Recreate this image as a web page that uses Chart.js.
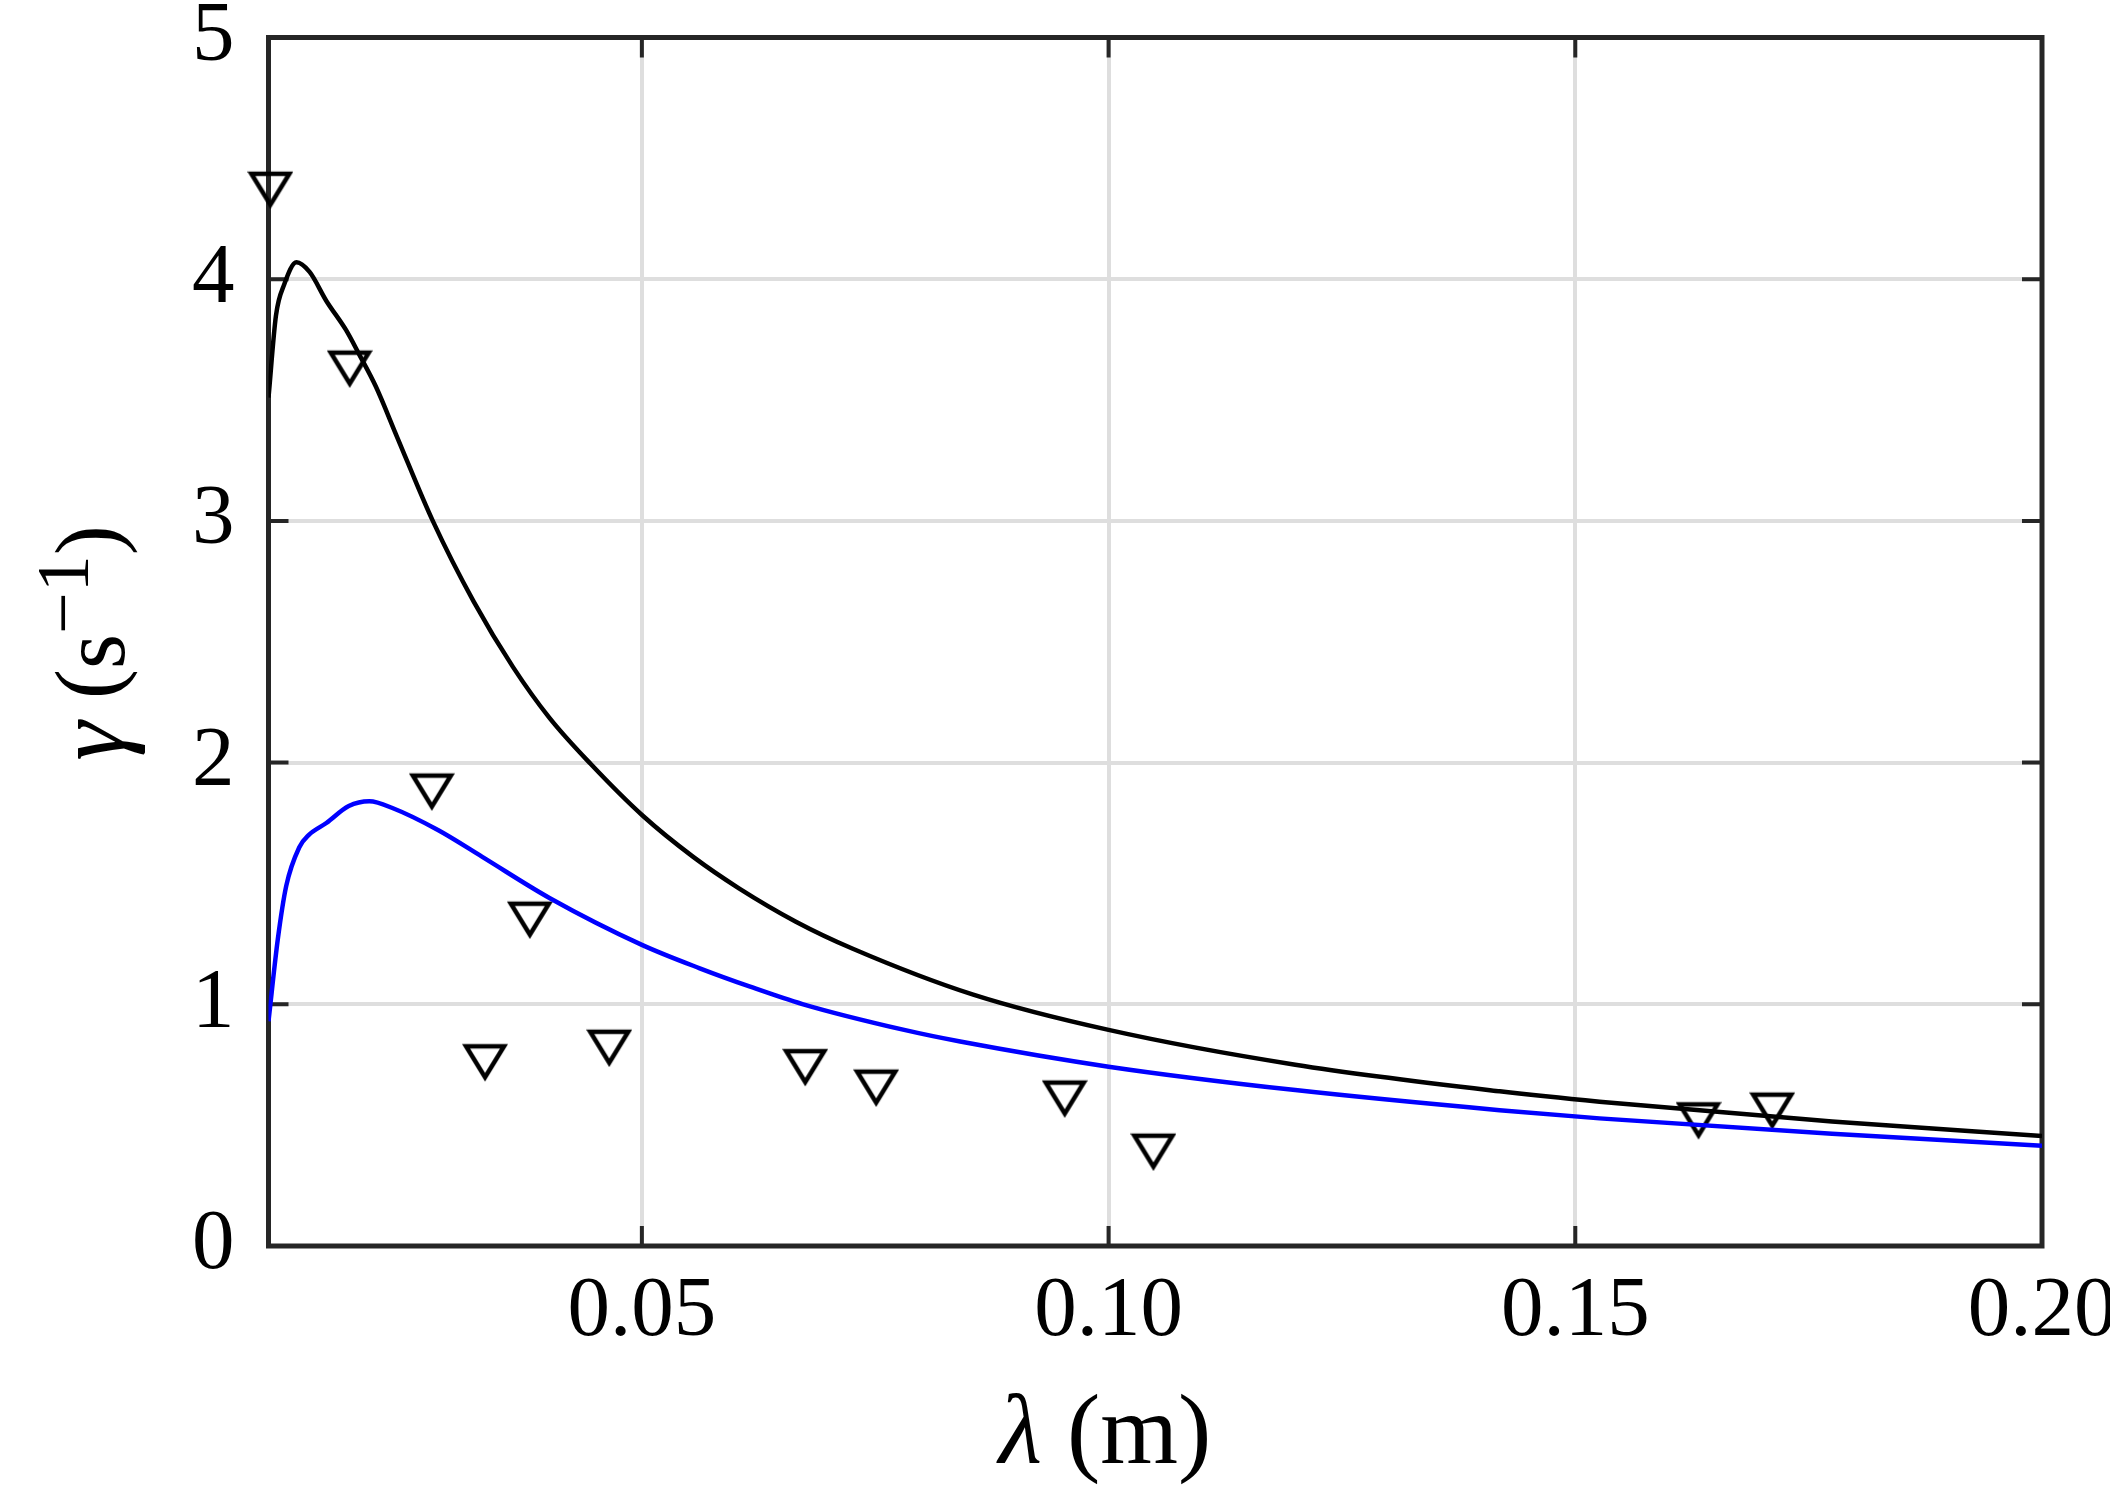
<!DOCTYPE html>
<html>
<head>
<meta charset="utf-8">
<script src="https://cdn.jsdelivr.net/npm/chart.js@4.4.0/dist/chart.umd.min.js"></script>
<style>
  html, body { margin: 0; padding: 0; background: #fff; }
</style>
</head>
<body>
<canvas id="chart" width="2110" height="1496"></canvas>
<script>
// values: wavelength lambda (m) vs growth rate gamma (1/s)
var blackLambda = [0.0100, 0.0108, 0.0117, 0.0130, 0.0144, 0.0162, 0.0183, 0.0197, 0.0215, 0.0238,
  0.0276, 0.0320, 0.0362, 0.0401, 0.0445, 0.0501, 0.0555, 0.0604, 0.0665, 0.0726, 0.0855, 0.1000,
  0.1200, 0.1419, 0.1526, 0.1775, 0.2000];
var blackGamma = [3.51, 3.85, 3.98, 4.07, 4.03, 3.91, 3.79, 3.69, 3.556, 3.345,
  3.00, 2.665, 2.395, 2.185, 1.995, 1.78, 1.61, 1.48, 1.342, 1.23, 1.04, 0.894,
  0.75, 0.640, 0.597, 0.515, 0.455];

var blueLambda = [0.0100, 0.0110, 0.0119, 0.0133, 0.0143, 0.0162, 0.0186, 0.0208, 0.0234, 0.0282,
  0.0329, 0.0401, 0.0500, 0.0562, 0.0616, 0.0672, 0.0781, 0.0841, 0.1000, 0.1200, 0.1419, 0.1526,
  0.1775, 0.2000];
var blueGamma = [0.93, 1.27, 1.49, 1.65, 1.70, 1.75, 1.82, 1.84, 1.81, 1.72,
  1.61, 1.44, 1.246, 1.149, 1.073, 1.001, 0.894, 0.846, 0.742, 0.645, 0.562, 0.528,
  0.464, 0.415];

var obsLambda = [0.0102, 0.0187, 0.0275, 0.0380, 0.0332, 0.0465, 0.0675, 0.0751, 0.0953, 0.1048, 0.1632, 0.1711];
var obsGamma = [4.37, 3.63, 1.88, 1.35, 0.76, 0.82, 0.74, 0.655, 0.61, 0.39, 0.52, 0.56];

var xTicks = [0.05, 0.10, 0.15, 0.20];
var yTicks = [0, 1, 2, 3, 4, 5];

var serif = '"Liberation Serif", "Times New Roman", serif';
var frameColour = '#262626';

function toPoints(xs, ys) {
  return xs.map(function (x, i) { return { x: x, y: ys[i] }; });
}

// open downward triangle, like matlab's 'v' marker
var marker = document.createElement('canvas');
marker.width = 46;
marker.height = 40;
var mc = marker.getContext('2d');
mc.lineWidth = 4.5;
mc.strokeStyle = '#000';
mc.beginPath();
mc.moveTo(4, 4);
mc.lineTo(42, 4);
mc.lineTo(23, 35);
mc.closePath();
mc.stroke();

// draw a row of text pieces with their own fonts, centred on 0
function drawPieces(ctx, pieces) {
  var total = 0;
  pieces.forEach(function (p) {
    ctx.font = p.font;
    p.w = ctx.measureText(p.text).width;
    total += p.w;
  });
  var x = -total / 2;
  pieces.forEach(function (p) {
    ctx.font = p.font;
    ctx.fillText(p.text, x, p.dy || 0);
    x += p.w;
  });
}

var framePlugin = {
  id: 'frame',
  beforeDatasetsDraw: function (chart) {
    var ctx = chart.ctx, a = chart.chartArea;
    var xs = chart.scales.x, ys = chart.scales.y;
    var len = 20;
    ctx.save();
    ctx.strokeStyle = frameColour;
    ctx.lineWidth = 4;
    ctx.beginPath();
    yTicks.forEach(function (v) {
      var p = ys.getPixelForValue(v);
      ctx.moveTo(a.left, p); ctx.lineTo(a.left + len, p);
      ctx.moveTo(a.right, p); ctx.lineTo(a.right - len, p);
    });
    xTicks.forEach(function (v) {
      var p = xs.getPixelForValue(v);
      ctx.moveTo(p, a.bottom); ctx.lineTo(p, a.bottom - len);
      ctx.moveTo(p, a.top); ctx.lineTo(p, a.top + len);
    });
    ctx.stroke();
    ctx.lineWidth = 5;
    ctx.strokeRect(a.left, a.top, a.right - a.left, a.bottom - a.top);
    ctx.restore();
  },
  afterDraw: function (chart) {
    var ctx = chart.ctx;
    ctx.save();
    ctx.fillStyle = '#000';
    ctx.textBaseline = 'alphabetic';
    ctx.textAlign = 'left';
    // x title
    ctx.save();
    ctx.translate(1105, 1463);
    drawPieces(ctx, [
      { text: 'λ', font: 'italic 100px ' + serif },
      { text: ' (', font: '100px ' + serif },
      { text: 'm', font: '100px ' + serif },
      { text: ')', font: '100px ' + serif }
    ]);
    ctx.restore();
    // y title
    ctx.save();
    ctx.translate(124, 643);
    ctx.rotate(-Math.PI / 2);
    drawPieces(ctx, [
      { text: 'γ', font: 'italic 100px ' + serif },
      { text: ' (', font: '90px ' + serif, dy: -6 },
      { text: 's', font: '90px ' + serif },
      { text: '−1', font: '74px ' + serif, dy: -36 },
      { text: ')', font: '90px ' + serif, dy: -6 }
    ]);
    ctx.restore();
    ctx.restore();
  }
};

new Chart(document.getElementById('chart'), {
  type: 'scatter',
  data: {
    datasets: [{
      data: toPoints(blackLambda, blackGamma),
      showLine: true,
      borderColor: '#000000',
      borderWidth: 4.5,
      pointRadius: 0,
      cubicInterpolationMode: 'monotone'
    }, {
      data: toPoints(blueLambda, blueGamma),
      showLine: true,
      borderColor: '#0000ff',
      borderWidth: 4.5,
      pointRadius: 0,
      cubicInterpolationMode: 'monotone'
    }, {
      data: toPoints(obsLambda, obsGamma),
      showLine: false,
      pointStyle: marker,
      clip: false
    }]
  },
  options: {
    responsive: false,
    animation: false,
    layout: { padding: { left: 0, right: 68, top: 37.5, bottom: 0 } },
    plugins: { legend: { display: false }, tooltip: { enabled: false } },
    scales: {
      x: {
        type: 'linear',
        min: 0.01,
        max: 0.20,
        afterBuildTicks: function (s) { s.ticks = xTicks.map(function (v) { return { value: v }; }); },
        afterFit: function (s) { s.height = 250; s.paddingLeft = 0; s.paddingRight = 0; },
        grid: { color: '#dedede', lineWidth: 4, drawTicks: false },
        border: { display: false },
        ticks: {
          padding: 16,
          maxRotation: 0,
          color: '#000',
          font: { family: serif, size: 85 },
          callback: function (v) { return v.toFixed(2); }
        }
      },
      y: {
        type: 'linear',
        min: 0,
        max: 5,
        afterBuildTicks: function (s) { s.ticks = yTicks.map(function (v) { return { value: v }; }); },
        afterFit: function (s) { s.width = 268.5; s.paddingTop = 0; s.paddingBottom = 0; },
        grid: { color: '#dedede', lineWidth: 4, drawTicks: false },
        border: { display: false },
        ticks: {
          padding: 34,
          color: '#000',
          font: { family: serif, size: 85, lineHeight: 0.8 },
          callback: function (v) { return String(v); }
        }
      }
    }
  },
  plugins: [framePlugin]
});
</script>
</body>
</html>
